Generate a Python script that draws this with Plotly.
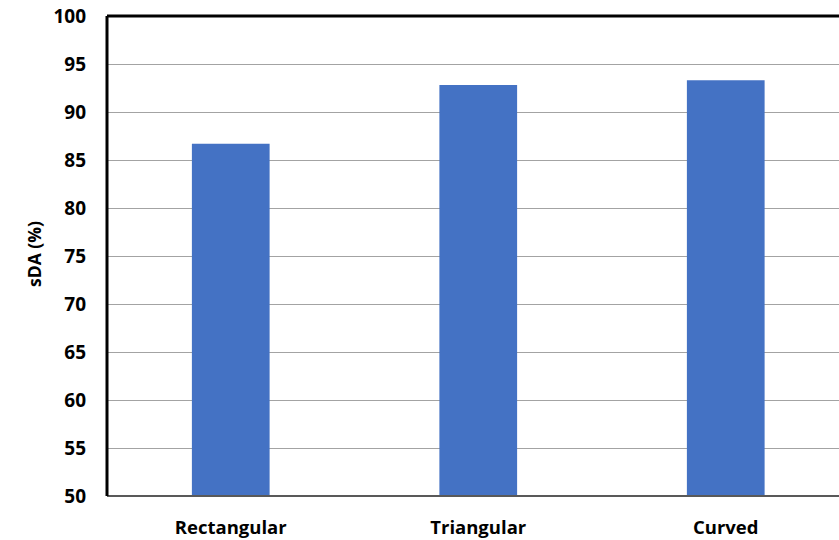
import plotly.graph_objects as go

# sDA by roof/shading form
categories = ["Rectangular", "Triangular", "Curved"]
sda_values = [86.7, 92.8, 93.3]
y_ticks = [50, 55, 60, 65, 70, 75, 80, 85, 90, 95, 100]

FONT = "Open Sans"
W, H = 839, 540
L, T, B = 107, 16, 44

fig = go.Figure(
    go.Bar(
        x=categories,
        y=sda_values,
        marker=dict(color="#4472C4", line=dict(width=0)),
        width=0.314,
    )
)

fig.update_layout(
    width=W,
    height=H,
    margin=dict(l=L, r=0, t=T, b=B),
    paper_bgcolor="white",
    plot_bgcolor="white",
    showlegend=False,
    font=dict(family=FONT, color="black"),
    xaxis=dict(
        range=[-0.5, -0.5 + (W - L) / 247.5],
        showgrid=False,
        showline=False,
        zeroline=False,
        ticks="",
        ticklabelstandoff=18,
        tickfont=dict(family=FONT, size=18.5, color="black", weight="bold"),
    ),
    yaxis=dict(
        range=[50, 100],
        tickvals=y_ticks,
        showgrid=True,
        gridcolor="#a3a3a3",
        gridwidth=1,
        zeroline=False,
        showline=False,
        ticks="",
        ticklabelstandoff=20,
        tickfont=dict(family=FONT, size=19, color="black", weight="bold"),
    ),
    shapes=[
        # top frame line
        dict(type="line", xref="paper", yref="paper", x0=0, x1=1, y0=1, y1=1,
             line=dict(color="black", width=3)),
        # bottom axis line
        dict(type="line", xref="paper", yref="paper", x0=0, x1=1, y0=0, y1=0,
             line=dict(color="#595959", width=2)),
        # left axis line
        dict(type="line", xref="paper", yref="paper", x0=0, x1=0, y0=0, y1=1,
             line=dict(color="black", width=3)),
    ],
    annotations=[
        dict(
            text="sDA (%)",
            xref="paper", yref="paper",
            x=(34 - L) / (W - L), y=(H - B - 254) / (H - T - B),
            xanchor="center", yanchor="middle",
            textangle=-90,
            showarrow=False,
            font=dict(family=FONT, size=17.5, color="black", weight="bold"),
        )
    ],
)

fig.write_html("out.html")
